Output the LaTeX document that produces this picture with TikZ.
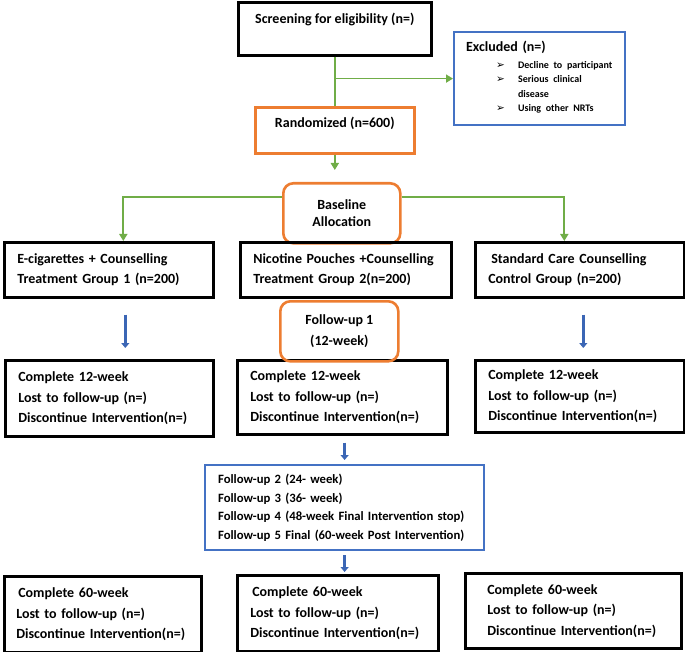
\documentclass[tikz,border=0pt]{standalone}
\usepackage{fontspec}
\setmainfont{Carlito}
\newfontfamily\dingfont{DejaVu Sans}
\usetikzlibrary{arrows.meta}

\definecolor{boxorange}{HTML}{ED7D31}
\definecolor{boxblue}{HTML}{4472C4}
\definecolor{linegreen}{HTML}{70AD47}
\definecolor{arrowblue}{HTML}{3B66B5}
\newcommand{\exbullet}{{\dingfont\fontsize{10.5}{10.5}\selectfont ➢}}

\begin{document}
\begin{tikzpicture}[x=1pt,y=-1pt,
  every node/.style={font=\bfseries\fontsize{14}{20.5}\selectfont},
  bbox/.style={draw=black,line width=2.6pt,anchor=north west,align=left,inner xsep=13pt,inner ysep=0pt},
  sbox/.style={draw=black,line width=2.6pt,anchor=north west,inner sep=0pt},
  obox/.style={draw=boxorange,line width=2.6pt,anchor=north west,inner sep=0pt},
  rbox/.style={obox,rounded corners=10pt,align=center},
  ubox/.style={draw=boxblue,line width=2.2pt,anchor=north west,align=left,inner ysep=0pt},
  gline/.style={draw=linegreen,line width=1.8pt},
  garrow/.style={gline,-{Triangle[length=7pt,width=8pt]}},
  barrow/.style={draw=arrowblue,line width=3pt,-{Triangle[length=5pt,width=8pt]}}]
  \useasboundingbox (0,0) rectangle (685,652);

  \node[sbox,minimum width=193pt,text height=21.5pt,text depth=31.5pt] (screen) at (237,1) {Screening for eligibility (n=)};
  \node[ubox,inner xsep=12pt,text width=147pt,minimum height=93pt] (excl) at (453,31)
    {Excluded (n=)\\[-3.5pt]
     \fontsize{10}{14.3}\selectfont
     \begin{tabular}[t]{@{\hspace*{30pt}}p{22pt}@{}l@{}}
       \exbullet & Decline to participant\\
       \exbullet & Serious clinical\\
                 & disease\\
       \exbullet & Using other NRTs
     \end{tabular}};
  \node[obox,minimum width=159pt,text height=20.5pt,text depth=25.5pt] (rand) at (254,106) {Randomized (n=600)};
  \node[rbox,minimum width=117pt,minimum height=60pt,font=\bfseries\fontsize{14}{17}\selectfont] (base) at (282,182) {Baseline\\Allocation};

  \node[bbox,text width=183pt,minimum height=55pt] (grpa) at (3,241) {E-cigarettes + Counselling\\Treatment Group 1 (n=200)};
  \node[bbox,text width=185pt,minimum height=55pt] (grpb) at (239,241) {Nicotine Pouches +Counselling\\Treatment Group 2(n=200)};
  \node[bbox,text width=183pt,minimum height=55pt] (grpc) at (474,241) {\hspace*{3pt}Standard Care Counselling\\Control Group (n=200)};

  \node[bbox,text width=182pt,minimum height=76pt] (wka) at (4,359) {Complete 12-week\\Lost to follow-up (n=)\\Discontinue Intervention(n=)};
  \node[bbox,text width=184pt,minimum height=74pt] (wkb) at (236,359) {Complete 12-week\\Lost to follow-up (n=)\\Discontinue Intervention(n=)};
  \node[bbox,text width=183pt,minimum height=72pt] (wkc) at (474,359) {Complete 12-week\\Lost to follow-up (n=)\\Discontinue Intervention(n=)};
  \node[rbox,minimum width=118pt,minimum height=60pt,font=\bfseries\fontsize{14}{21}\selectfont] (fuone) at (279,300) {Follow-up 1\\(12-week)};

  \node[ubox,inner xsep=13pt,text width=253pt,minimum height=85pt,font=\bfseries\fontsize{12.7}{18.5}\selectfont] (fubox) at (204,464)
    {Follow-up 2 (24- week)\\Follow-up 3 (36- week)\\Follow-up 4 (48-week Final Intervention stop)\\Follow-up 5 Final (60-week Post Intervention)};

  \node[bbox,inner xsep=12pt,text width=173pt,minimum height=76pt] (fina) at (3,575) {\hspace*{2pt}Complete 60-week\\Lost to follow-up (n=)\\Discontinue Intervention(n=)};
  \node[bbox,text width=175pt,minimum height=76pt] (finb) at (236,574) {\hspace*{2pt}Complete 60-week\\Lost to follow-up (n=)\\Discontinue Intervention(n=)};
  \node[bbox,inner xsep=22pt,text width=172pt,minimum height=75pt] (finc) at (464,572) {Complete 60-week\\Lost to follow-up (n=)\\Discontinue Intervention(n=)};

  % green connectors
  \draw[gline] (screen.south) -- (rand.north);
  \draw[garrow] (screen.south |- excl.west) -- (excl.west);
  \draw[garrow,shorten >=12pt] (rand.south) -- (rand.south |- base.north);
  \draw[garrow] ([yshift=-15pt]base.north west) -| ([xshift=14.5pt]grpa.north);
  \draw[garrow] ([yshift=-15pt]base.north east) -| ([xshift=-15.5pt]grpc.north);

  % blue arrows
  \coordinate (la) at ([xshift=16.5pt]grpa.south);
  \coordinate (ra) at ([xshift=3.5pt]grpc.south);
  \draw[barrow,shorten <=16pt,shorten >=11pt] (la) -- (la |- wka.north);
  \draw[barrow,shorten <=16pt,shorten >=11pt] (ra) -- (ra |- wkc.north);
  \draw[barrow,shorten <=7pt,shorten >=4pt] (fubox.north |- wkb.south) -- (fubox.north);
  \draw[barrow,shorten <=4pt,shorten >=2pt] (fubox.south) -- (fubox.south |- finb.north);
\end{tikzpicture}
\end{document}
